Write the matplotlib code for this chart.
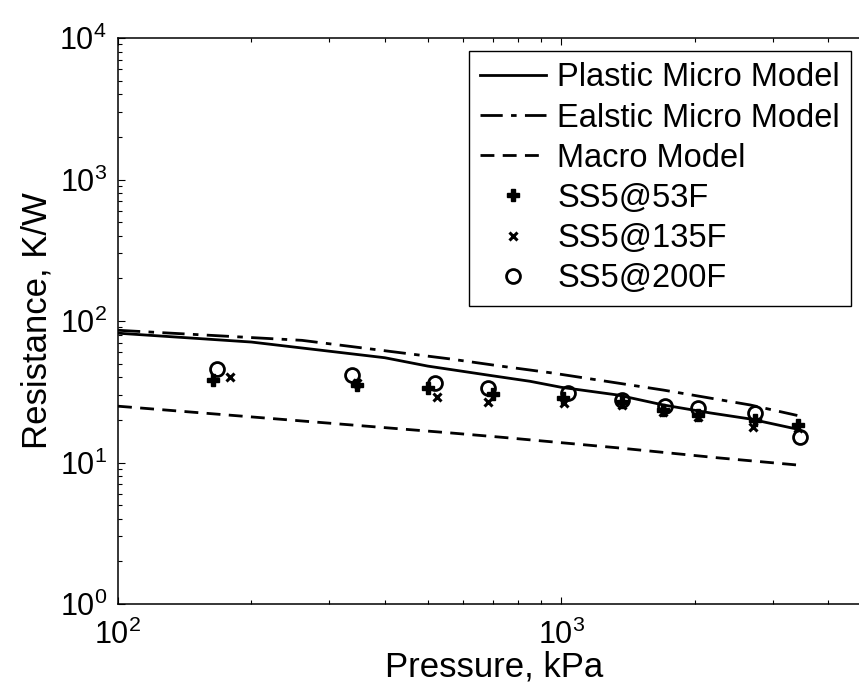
import numpy as np
import matplotlib
matplotlib.use('Agg')
import matplotlib.pyplot as plt

plt.rcParams['font.family'] = ['Liberation Sans', 'DejaVu Sans']
plt.rcParams['mathtext.fontset'] = 'custom'
plt.rcParams['mathtext.rm'] = 'Liberation Sans'

# Modellkurven (Druck in kPa, Widerstand in K/W)
p_plastic = [100, 200, 400, 500, 700, 850, 1000, 1340, 1700, 2170, 2670, 3410]
r_plastic = [82, 71, 55, 48, 41, 37.5, 34, 30, 25.5, 22.4, 20.3, 17.2]

p_elastic = [100, 260, 560, 730, 950, 1700, 2670, 3410]
r_elastic = [86, 73, 54, 48, 43, 32.5, 25.5, 21.5]

p_macro = [100, 200, 560, 730, 1340, 2250, 3410]
r_macro = [25, 21, 16.2, 15.1, 12.7, 10.8, 9.6]

# Messwerte
p_53 = [164, 346, 501, 702, 1010, 1373, 1699, 2039, 2742, 3428]
r_53 = [38.3, 35.3, 33.6, 30.5, 28.6, 26.8, 23.5, 21.7, 20.0, 18.4]

p_135 = [179, 346, 525, 684, 1016, 1373, 1699, 2039, 2713, 3428]
r_135 = [40.2, 36.4, 29.0, 26.8, 26.3, 25.5, 22.7, 21.0, 17.8, 17.5]

p_200 = [167, 337, 520, 684, 1037, 1373, 1717, 2039, 2742, 3464]
r_200 = [45.7, 41.5, 36.4, 33.6, 31.0, 27.7, 25.1, 24.3, 22.4, 15.1]

fig = plt.figure(figsize=(8.59, 6.96), dpi=100)
W, H = 859, 696
ax = fig.add_axes([118 / W, (H - 604) / H, 753 / W, 566 / H])

ax.plot(p_plastic, r_plastic, 'k-', lw=2, label='Plastic Micro Model')
ax.plot(p_elastic, r_elastic, 'k-.', lw=2, dashes=(8, 3, 2, 3), label='Ealstic Micro Model')
ax.plot(p_macro, r_macro, 'k--', lw=2, dashes=(5, 3), label='Macro Model')
ax.plot(p_53, r_53, 'kP', ms=9, ls='none', label='SS5@53F')
ax.plot(p_135, r_135, 'kx', ms=5.5, mew=2.2, ls='none', label='SS5@135F')
ax.plot(p_200, r_200, 'ko', ms=10, mfc='none', mew=2, ls='none', label='SS5@200F')

ax.set_xscale('log')
ax.set_yscale('log')
ax.set_xlim(100, 5000)
ax.set_ylim(1, 1e4)
ax.set_xticks([1e2, 1e3])
ax.set_yticks([1e0, 1e1, 1e2, 1e3, 1e4])

ax.tick_params(which='both', direction='in', top=True, right=True, labelsize=22)
ax.tick_params(which='major', length=5, width=0.8)
ax.tick_params(axis='x', which='major', pad=11)
ax.tick_params(axis='y', which='major', pad=8)
ax.tick_params(which='minor', length=3, width=0.8)
for s in ax.spines.values():
    s.set_linewidth(1.1)

ax.set_xlabel('Pressure, kPa', fontsize=25, labelpad=0)
ax.set_ylabel('Resistance, K/W', fontsize=25, labelpad=4)

leg = ax.legend(loc='upper left', bbox_to_anchor=(469 / W, 1 - 51 / H),
                bbox_transform=fig.transFigure, borderaxespad=0,
                fontsize=23.5, fancybox=False, framealpha=1, edgecolor='k',
                handlelength=2.0, handletextpad=0.35, borderpad=0.35,
                labelspacing=0.28)
leg.get_frame().set_linewidth(1)

fig.savefig('out.png', dpi=100)
